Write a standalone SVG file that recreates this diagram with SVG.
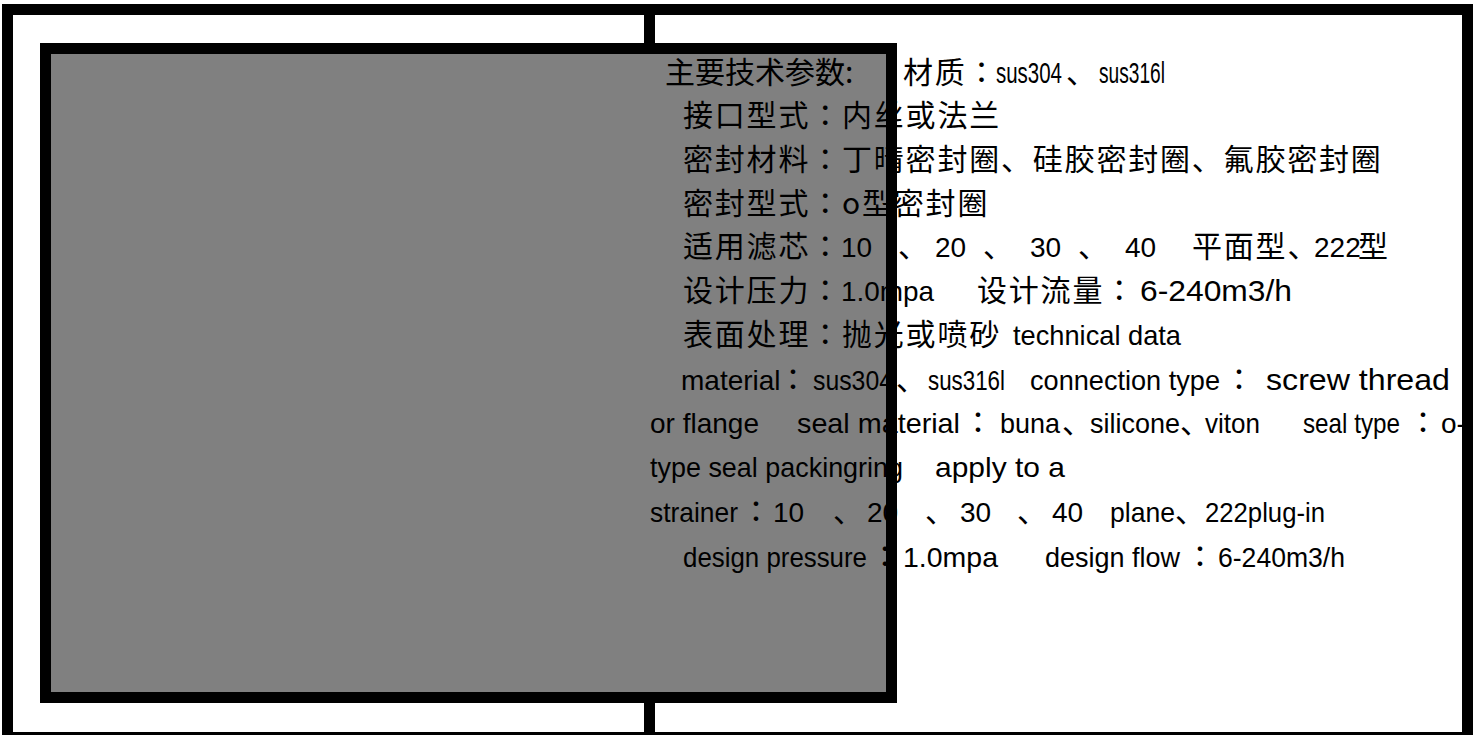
<svg xmlns="http://www.w3.org/2000/svg" width="1474" height="735" viewBox="0 0 1474 735">
<style>
.c{font-family:"Noto Sans CJK JP","Liberation Sans",sans-serif;font-size:30px;letter-spacing:1.8px;fill:#000}
.h{letter-spacing:0}
.l{font-family:"Liberation Sans","Noto Sans CJK JP",sans-serif;font-size:28px;letter-spacing:0;fill:#000}
.blk{fill:none;stroke:#000;stroke-width:11}
</style>
<rect width="1474" height="735" fill="#fff"/>
<line id="divider" x1="649.5" y1="9" x2="649.5" y2="735" stroke="#000" stroke-width="11"/>
<rect id="photo-fill" x="45.5" y="48.5" width="846" height="649" fill="#808080"/>
<g id="spec-text">
<text class="c" y="83"><tspan class="h" x="665">主要技术参数:</tspan><tspan x="903">材质：</tspan><tspan class="l" x="996" style="font-size:30px" textLength="66" lengthAdjust="spacingAndGlyphs">sus304</tspan><tspan x="1066">、</tspan><tspan class="l" x="1099" style="font-size:30px" textLength="66" lengthAdjust="spacingAndGlyphs">sus316l</tspan></text>
<text class="c" x="683" y="126">接口型式：内丝或法兰</text>
<text class="c" x="683" y="170">密封材料：丁晴密封圈、硅胶密封圈、氟胶密封圈</text>
<text class="c" x="683" y="214">密封型式：o型密封圈</text>
<text class="c" x="683" y="257">适用滤芯：<tspan class="l" x="841">10</tspan><tspan x="898">、</tspan><tspan class="l" x="935">20</tspan><tspan x="983">、</tspan><tspan class="l" x="1030">30</tspan><tspan x="1078">、</tspan><tspan class="l" x="1125">40</tspan><tspan x="1192">平面型、</tspan><tspan class="l" x="1314">222</tspan><tspan x="1358">型</tspan></text>
<text class="c" x="683" y="301">设计压力：<tspan class="l" x="841" textLength="93" lengthAdjust="spacingAndGlyphs">1.0mpa</tspan><tspan x="977">设计流量：</tspan><tspan class="l" x="1140" style="font-size:30px" textLength="152" lengthAdjust="spacingAndGlyphs">6-240m3/h</tspan></text>
<text class="c" x="683" y="345">表面处理：抛光或喷砂<tspan class="l" x="1013" textLength="168" lengthAdjust="spacingAndGlyphs">technical data</tspan></text>
<text class="l" y="390"><tspan x="681">material</tspan><tspan class="c" x="778">：</tspan><tspan x="813" textLength="80" lengthAdjust="spacingAndGlyphs">sus304</tspan><tspan class="c" x="896">、</tspan><tspan x="928" textLength="77" lengthAdjust="spacingAndGlyphs">sus316l</tspan><tspan x="1030" textLength="190" lengthAdjust="spacingAndGlyphs">connection type</tspan><tspan class="c" x="1224">：</tspan><tspan x="1266" style="font-size:29px" textLength="184" lengthAdjust="spacingAndGlyphs">screw thread</tspan></text>
<text class="l" y="433"><tspan x="650">or flange</tspan><tspan x="797" textLength="163" lengthAdjust="spacingAndGlyphs">seal material</tspan><tspan class="c" x="963">：</tspan><tspan x="1000" textLength="60" lengthAdjust="spacingAndGlyphs">buna</tspan><tspan class="c" x="1062">、</tspan><tspan x="1090" textLength="90" lengthAdjust="spacingAndGlyphs">silicone</tspan><tspan class="c" x="1180">、</tspan><tspan x="1205" textLength="55" lengthAdjust="spacingAndGlyphs">viton</tspan><tspan x="1303" textLength="97" lengthAdjust="spacingAndGlyphs">seal type</tspan><tspan class="c" x="1408">：</tspan><tspan x="1441">o-</tspan></text>
<text class="l" y="477"><tspan x="650" textLength="253" lengthAdjust="spacingAndGlyphs">type seal packingring</tspan><tspan x="935" textLength="130" lengthAdjust="spacingAndGlyphs">apply to a</tspan></text>
<text class="l" y="522"><tspan x="650" textLength="88" lengthAdjust="spacingAndGlyphs">strainer</tspan><tspan class="c" x="741">：</tspan><tspan x="773">10</tspan><tspan class="c" x="833">、</tspan><tspan x="867">20</tspan><tspan class="c" x="925">、</tspan><tspan x="960">30</tspan><tspan class="c" x="1017">、</tspan><tspan x="1052">40</tspan><tspan x="1110" textLength="65" lengthAdjust="spacingAndGlyphs">plane</tspan><tspan class="c" x="1175">、</tspan><tspan x="1205" textLength="120" lengthAdjust="spacingAndGlyphs">222plug-in</tspan></text>
<text class="l" y="567"><tspan x="683" textLength="184" lengthAdjust="spacingAndGlyphs">design pressure</tspan><tspan class="c" x="870">：</tspan><tspan x="903" textLength="95" lengthAdjust="spacingAndGlyphs">1.0mpa</tspan><tspan x="1045" textLength="135" lengthAdjust="spacingAndGlyphs">design flow</tspan><tspan class="c" x="1185">：</tspan><tspan x="1218" textLength="127" lengthAdjust="spacingAndGlyphs">6-240m3/h</tspan></text>
</g>
<rect id="photo-border" class="blk" x="45.5" y="48.5" width="846" height="649"/>
<rect id="frame" class="blk" x="7.5" y="9.5" width="1460" height="728"/>
</svg>
